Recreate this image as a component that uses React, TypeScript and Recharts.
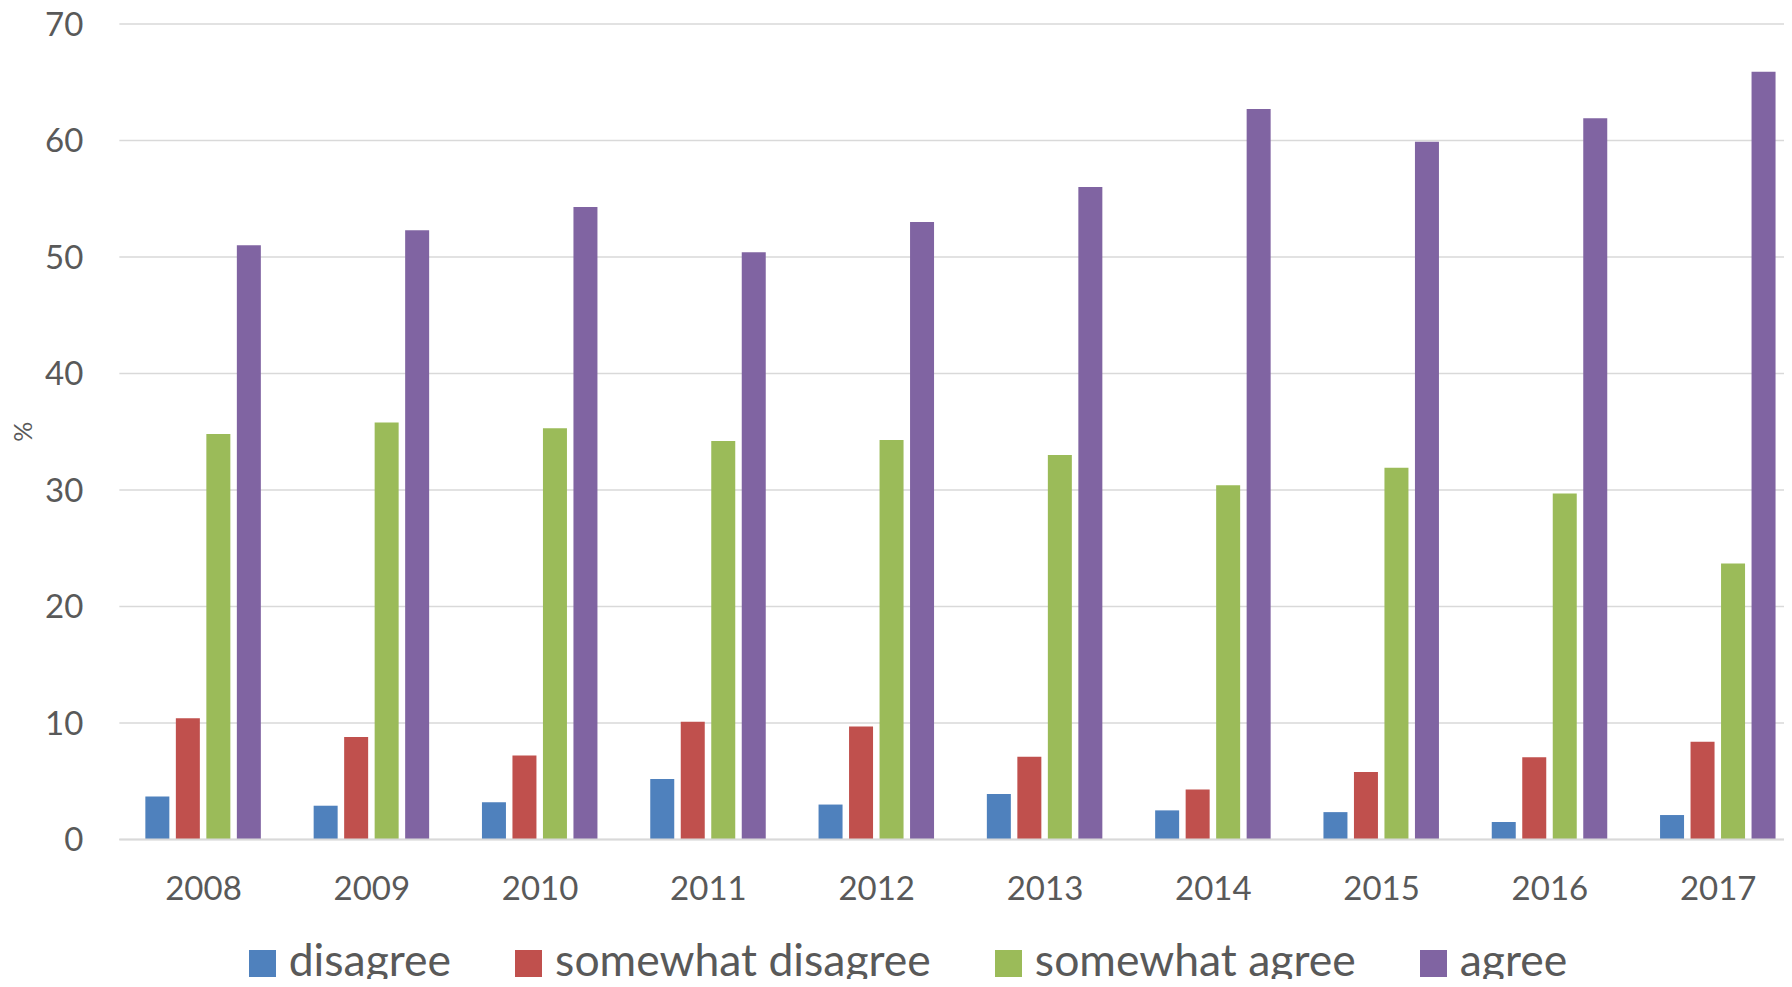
import React from 'react';
import { BarChart, Bar, XAxis, YAxis, CartesianGrid, Legend } from 'recharts';

const years = ['2008', '2009', '2010', '2011', '2012', '2013', '2014', '2015', '2016', '2017'];
const disagree = [3.7, 2.9, 3.2, 5.2, 3.0, 3.9, 2.5, 2.35, 1.5, 2.1];
const somewhatDisagree = [10.4, 8.8, 7.2, 10.1, 9.7, 7.1, 4.3, 5.8, 7.05, 8.4];
const somewhatAgree = [34.8, 35.8, 35.3, 34.2, 34.3, 33.0, 30.4, 31.9, 29.7, 23.7];
const agree = [51.0, 52.3, 54.3, 50.4, 53.0, 56.0, 62.7, 59.9, 61.9, 65.9];
const yTicks = [0, 10, 20, 30, 40, 50, 60, 70];

const series = [
    { key: 'disagree', name: 'disagree', color: '#4f81bd' },
    { key: 'somewhatDisagree', name: 'somewhat disagree', color: '#c0504d' },
    { key: 'somewhatAgree', name: 'somewhat agree', color: '#9bbb59' },
    { key: 'agree', name: 'agree', color: '#8064a2' },
];

const data = years.map((year, i) => ({
    year,
    disagree: disagree[i],
    somewhatDisagree: somewhatDisagree[i],
    somewhatAgree: somewhatAgree[i],
    agree: agree[i],
}));

const FONT = 'Lato, "Open Sans", sans-serif';
const TEXT = '#595959';

const LegendContent = () => (
    <div style={{ display: 'flex', justifyContent: 'center', alignItems: 'center', height: 45, fontFamily: FONT }}>
        {series.map((s, i) => (
            <div key={s.key} style={{ display: 'flex', alignItems: 'center', marginLeft: i === 0 ? 0 : 64 }}>
                <span style={{ display: 'inline-block', width: 27, height: 27, background: s.color, marginRight: 13 }} />
                <span style={{ fontSize: 44.5, lineHeight: 1, color: TEXT, position: 'relative', top: -4 }}>{s.name}</span>
            </div>
        ))}
    </div>
);

const PercentLabel = (props: any) => {
    const { viewBox } = props;
    const cx = 22;
    const cy = viewBox.y + viewBox.height / 2;
    return (
        <text
            x={cx}
            y={cy}
            transform={`rotate(-90 ${cx} ${cy})`}
            textAnchor="middle"
            dominantBaseline="central"
            fill={TEXT}
            fontSize={25}
            fontFamily={FONT}
        >
            %
        </text>
    );
};

const App: React.FC = () => {
    return (
        <div style={{ margin: -8, width: 1792, height: 987, overflow: 'hidden', background: '#fff' }}>
            <BarChart
                width={1810}
                height={987}
                data={data}
                margin={{ top: 24, right: 7.65, left: 0, bottom: 52.5 }}
                barSize={24}
                barGap={6.5}
            >
                <CartesianGrid vertical={false} stroke="#d9d9d9" strokeWidth={1.5} />
                <XAxis
                    dataKey="year"
                    height={50}
                    tickLine={false}
                    tickSize={0}
                    tickMargin={37}
                    axisLine={{ stroke: '#d9d9d9', strokeWidth: 2 }}
                    tick={{ fill: TEXT, fontSize: 33, fontFamily: FONT }}
                    interval={0}
                />
                <YAxis
                    width={119.35}
                    domain={[0, 70]}
                    ticks={yTicks}
                    axisLine={false}
                    tickLine={false}
                    tickSize={0}
                    tickMargin={36}
                    tick={{ fill: TEXT, fontSize: 33, fontFamily: FONT }}
                    label={<PercentLabel />}
                />
                <Legend
                    verticalAlign="bottom"
                    content={<LegendContent />}
                    wrapperStyle={{ top: 941, bottom: 'auto', left: 0, width: 1816 }}
                />
                {series.map((s) => (
                    <Bar key={s.key} dataKey={s.key} name={s.name} fill={s.color} isAnimationActive={false} />
                ))}
            </BarChart>
        </div>
    );
};

export default App;
